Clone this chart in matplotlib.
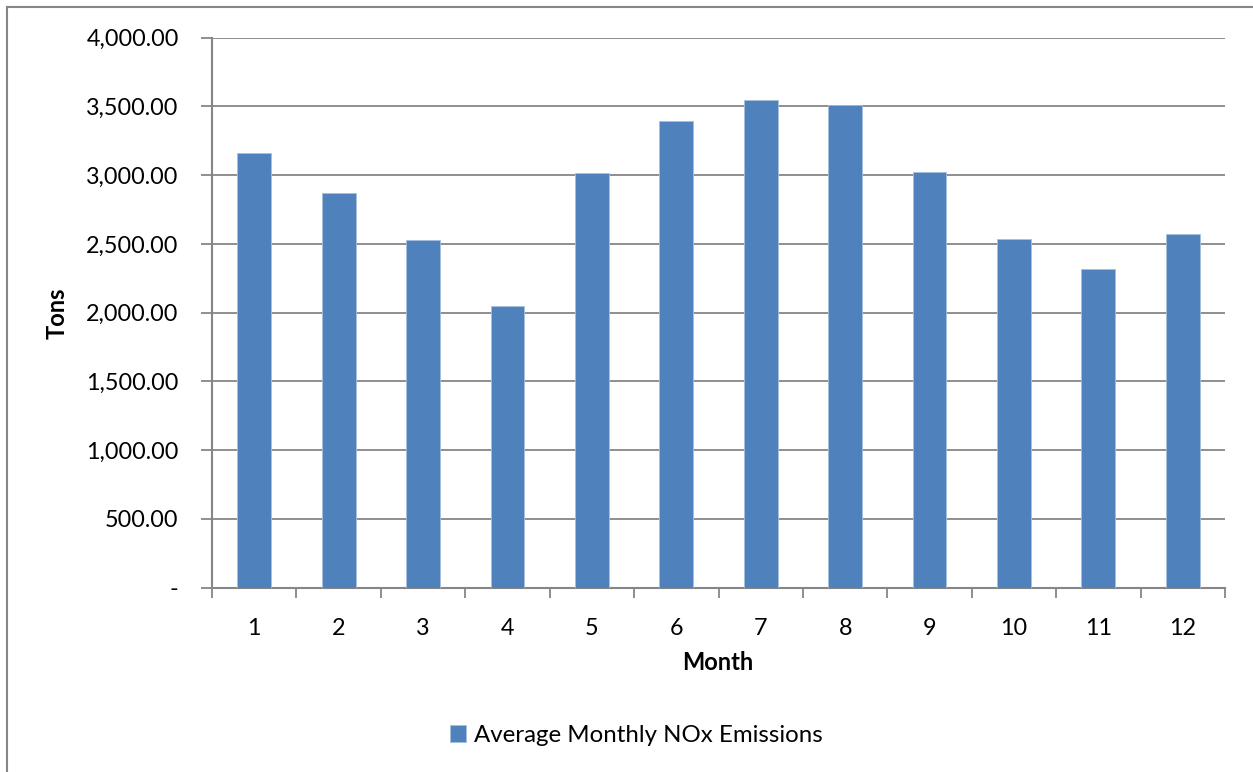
import matplotlib
matplotlib.use("Agg")
import matplotlib.pyplot as plt
from matplotlib.lines import Line2D
from matplotlib.ticker import FuncFormatter, FixedLocator, NullFormatter

plt.rcParams['font.family'] = ['Lato', 'DejaVu Sans']

months = [1, 2, 3, 4, 5, 6, 7, 8, 9, 10, 11, 12]
month_labels = [str(m) for m in months]
nox_tons = [3159, 2868, 2529, 2049, 3016, 3392, 3545, 3508, 3026, 2536, 2320, 2570]
series_name = "Average Monthly NOx Emissions"

BAR_COLOR = "#4F81BD"
GRID_COLOR = "#868686"

W, H, DPI = 1253, 772, 100
fig = plt.figure(figsize=(W / DPI, H / DPI), dpi=DPI)
fig.patch.set_facecolor("white")

# chart-area frame (top and left edges)
fig.add_artist(Line2D([7 / W, 7 / W], [0, 1 - 7 / H], transform=fig.transFigure,
                      color=GRID_COLOR, lw=1.5))
fig.add_artist(Line2D([7 / W, 1], [1 - 7 / H, 1 - 7 / H], transform=fig.transFigure,
                      color=GRID_COLOR, lw=1.5))

left, right = 212 / W, 1225 / W
top, bottom = 1 - 37.7 / H, 1 - 587.7 / H
ax = fig.add_axes([left, bottom, right - left, top - bottom])

ax.bar(months, nox_tons, width=0.4, color=BAR_COLOR, edgecolor="#A7C0DE",
       linewidth=0.6, zorder=3, label=series_name)

ax.set_xlim(0.5, 12.5)
ax.set_ylim(0, 4000)
ax.set_yticks(range(0, 4001, 500))

def fmt(v, pos):
    return "-" if v == 0 else f"{v:,.2f}"

ax.yaxis.set_major_formatter(FuncFormatter(fmt))
ax.yaxis.grid(True, color=GRID_COLOR, lw=1.3, zorder=0)
ax.set_axisbelow(True)

# category labels centred, tick marks on category boundaries
ax.set_xticks(months)
ax.set_xticklabels(month_labels)
ax.tick_params(axis="x", which="major", length=0, pad=22, labelsize=16.8)
ax.xaxis.set_minor_locator(FixedLocator([m + 0.5 for m in [0] + months]))
ax.xaxis.set_minor_formatter(NullFormatter())
ax.tick_params(axis="x", which="minor", length=7, width=1.3, color=GRID_COLOR, direction="out")
ax.tick_params(axis="y", length=8, width=1.3, color=GRID_COLOR, pad=16, labelsize=16.8)

for s in ["top", "right"]:
    ax.spines[s].set_visible(False)
for s in ["left", "bottom"]:
    ax.spines[s].set_color(GRID_COLOR)
    ax.spines[s].set_linewidth(1.5)

fig.text(718 / W, 1 - 663 / H, "Month", ha="center", va="center",
         fontsize=17, fontweight="bold")
fig.text(57 / W, 1 - 313 / H, "Tons", ha="center", va="center",
         fontsize=17, fontweight="bold", rotation=90)

fig.legend(loc="center", bbox_to_anchor=(636 / W, 1 - 735 / H), frameon=False,
           fontsize=17.3, handlelength=0.7, handleheight=0.7, handletextpad=0.3)

fig.savefig("out.png", dpi=DPI, facecolor="white")
